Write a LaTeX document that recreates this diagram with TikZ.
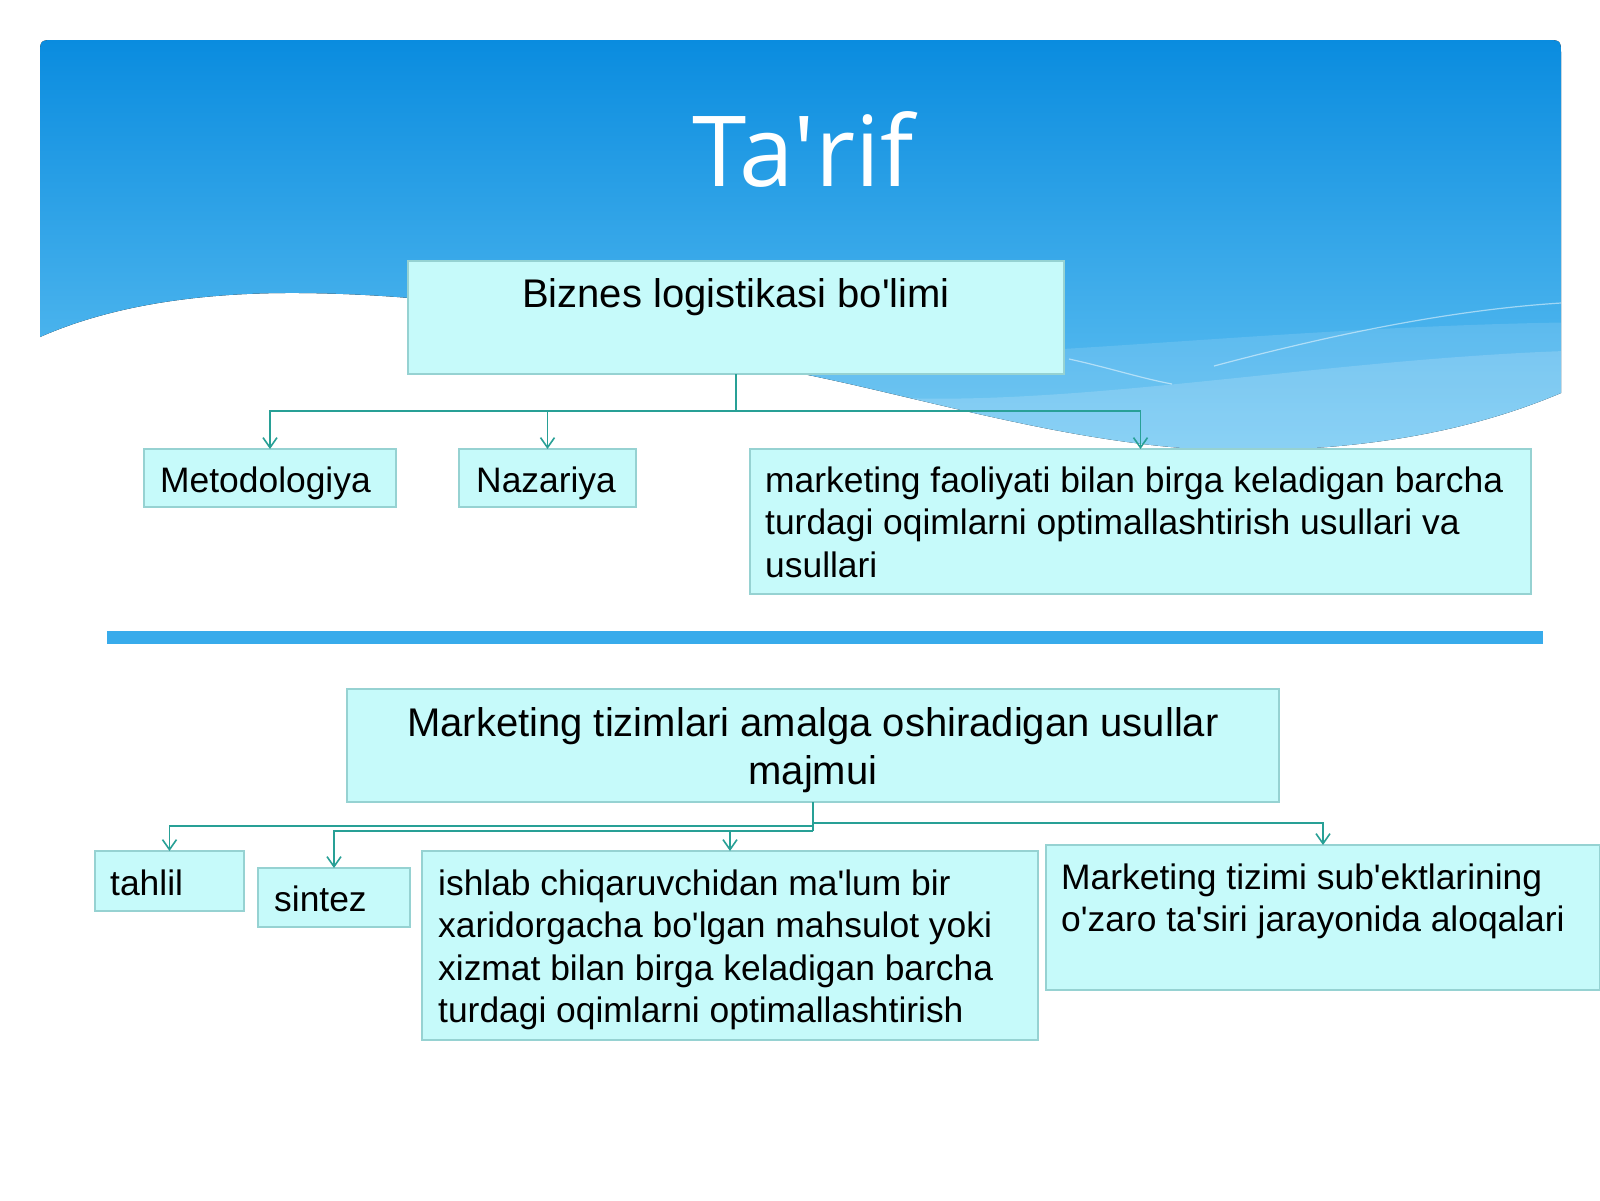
\documentclass[tikz,border=0pt]{standalone}
\usepackage{fontspec}
\setmainfont{Liberation Sans}
\newfontfamily\titlefont{Open Sans}
\usetikzlibrary{arrows.meta}
\definecolor{hdrtop}{RGB}{10,140,223}
\definecolor{hdrbot}{RGB}{98,194,242}
\definecolor{boxfill}{RGB}{198,250,250}
\definecolor{boxline}{RGB}{150,210,210}
\definecolor{conncol}{RGB}{40,160,150}
\definecolor{sepbar}{RGB}{56,171,235}
\newcommand\apo{\XeTeXglyph\XeTeXcharglyph"0027\relax}
\begin{document}
\begin{tikzpicture}[x=1pt,y=-1pt,
  boxnode/.style={draw=boxline, line width=1.2pt, fill=boxfill, inner sep=0pt, outer sep=0pt, rectangle, anchor=north west},
  txt/.style={inner sep=0pt, anchor=base west, font=\fontsize{35.4}{42.5}\selectfont},
  bigtxt/.style={inner sep=0pt, anchor=base, font=\fontsize{40}{48}\selectfont},
  link/.style={draw=conncol, line width=1.6pt},
  arr/.style={link, -{Straight Barb[length=10pt,width=14pt]}}
]
\useasboundingbox (0,0) rectangle (1600,1200);
\fill[white] (0,0) rectangle (1600,1200);
\def\hdrpath{(40,337) -- (40,56) .. controls (40,40) .. (56,40) -- (1545,40) .. controls (1561,40) .. (1561,56) -- (1561,393)
  .. controls (1450,440) and (1330,452) .. (1220,450)
  .. controls (1080,446) and (930,400) .. (808,375)
  .. controls (650,342) and (520,295) .. (300,293)
  .. controls (170,292) and (90,315) .. (40,337) -- cycle}
% header
\fill[top color=hdrtop, bottom color=hdrbot] \hdrpath;
\begin{scope}
  \clip \hdrpath;
  \fill[white, opacity=0.12] (760,350) .. controls (950,372) and (1250,325) .. (1600,322) -- (1600,520) -- (760,520) -- cycle;
  \fill[white, opacity=0.16] (900,398) .. controls (1100,405) and (1350,355) .. (1600,350) -- (1600,520) -- (900,520) -- cycle;
  \draw[white, opacity=0.5, line width=1.2pt] (1069,359) .. controls (1110,368) and (1140,378) .. (1172,384);
  \draw[white, opacity=0.5, line width=1.2pt] (1214,366) .. controls (1330,335) and (1450,310) .. (1561,303);
\end{scope}
\node[anchor=base, text=white, inner sep=0pt, font=\titlefont\fontsize{98}{118}\selectfont] (title) at (803,186) {Ta\apo rif};

% top tree
\node[boxnode, minimum width=656pt, minimum height=113pt] (biz) at (408,261) {};
\node[boxnode, minimum width=252pt, minimum height=58pt] (met) at (144,449) {};
\node[boxnode, minimum width=177pt, minimum height=58pt] (naz) at (459,449) {};
\node[boxnode, minimum width=781pt, minimum height=145pt] (lng) at (750,449) {};
\node[bigtxt] (biz-t) at (736,307) {Biznes logistikasi bo\apo limi};
\node[txt] (met-t) at (160,492) {Metodologiya};
\node[txt] (naz-t) at (476,492) {Nazariya};
\node[txt] (lng-t) at (765,492) {\parbox[t]{760pt}{\raggedright marketing faoliyati bilan birga keladigan barcha\\ turdagi oqimlarni optimallashtirish usullari va\\ usullari}};
\coordinate (j1) at (736,411);
\draw[link] (biz.south) -- (j1);
\draw[arr] (j1) -| (met.north);
\draw[arr] (j1) -| (naz.north);
\draw[arr] (j1) -| (lng.north);

% separator
\fill[sepbar] (107,631) rectangle (1543,644);

% bottom tree
\node[boxnode, minimum width=932pt, minimum height=113pt] (mkt) at (347,689) {};
\node[boxnode, minimum width=149pt, minimum height=60pt] (tah) at (95,851) {};
\node[boxnode, minimum width=152pt, minimum height=59pt] (sin) at (258,868) {};
\node[boxnode, minimum width=616pt, minimum height=189pt] (ish) at (422,851) {};
\node[boxnode, minimum width=554pt, minimum height=145pt] (sub) at (1046,845) {};
\node[bigtxt] (mkt-t) at (813,736) {\parbox[t]{920pt}{\centering Marketing tizimlari amalga oshiradigan usullar\\ majmui}};
\node[txt] (tah-t) at (110,895) {tahlil};
\node[txt] (sin-t) at (274,911) {sintez};
\node[txt] (ish-t) at (438,895) {\parbox[t]{600pt}{\raggedright ishlab chiqaruvchidan ma\apo lum bir\\ xaridorgacha bo\apo lgan mahsulot yoki\\ xizmat bilan birga keladigan barcha\\ turdagi oqimlarni optimallashtirish}};
\node[txt] (sub-t) at (1061,889) {\parbox[t]{540pt}{\raggedright Marketing tizimi sub\apo ektlarining\\ o\apo zaro ta\apo siri jarayonida aloqalari}};
\coordinate (k0) at (813,831);
\coordinate (kR) at (813,823);
\coordinate (kT) at (813,826);
\coordinate (kI) at (730,831);
\draw[link] (mkt.south) -- (k0);
\draw[arr] (kR) -| (sub.north);
\draw[arr] (kT) -| (tah.north);
\draw[arr] (k0) -| (sin.north);
\draw[arr] (kI) -- (ish.north);
\end{tikzpicture}
\end{document}
